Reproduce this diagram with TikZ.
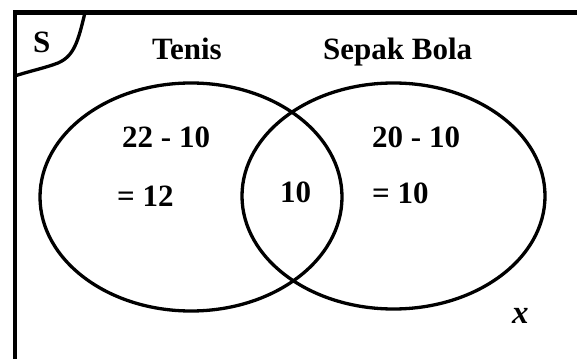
\documentclass[tikz,border=0pt]{standalone}
\usepackage{fontspec}
\setmainfont{Liberation Serif}
\begin{document}
\begin{tikzpicture}[x=1pt,y=-1pt,
  lbl/.style={anchor=base west,inner sep=0pt,font=\fontsize{31}{37}\selectfont\bfseries},
  venn/.style={line width=3.3pt},
  frame/.style={line width=4.2pt,line join=miter}]
\useasboundingbox (0,0) rectangle (577,358);
% universe frame
\draw[frame] (14.7,360) -- (14.7,12.5) -- (580,12.5);
\draw[line width=3.3pt] (85,12.5) .. controls (78,42) and (74,56) .. (58,63) .. controls (45,68) and (30,71) .. (14.7,76);
% sets
\draw[venn] (191,197) ellipse [x radius=151, y radius=114];
\draw[venn] (393.5,196) ellipse [x radius=151.5, y radius=113];
% labels
\node[lbl] (s) at (33,53) {S};
\node[lbl] (tenis) at (152,60) {Tenis};
\node[lbl] (sepak) at (323,60) {Sepak Bola};
\node[lbl] (a1) at (122,147) {22 - 10};
\node[lbl] (a2) at (117,206) {= 12};
\node[lbl] (mid) at (280,202) {10};
\node[lbl] (b1) at (372,147) {20 - 10};
\node[lbl] (b2) at (372,203) {= 10};
\node[lbl,font=\fontsize{33}{37}\selectfont\bfseries\itshape] (x) at (512,323) {x};
\end{tikzpicture}
\end{document}
